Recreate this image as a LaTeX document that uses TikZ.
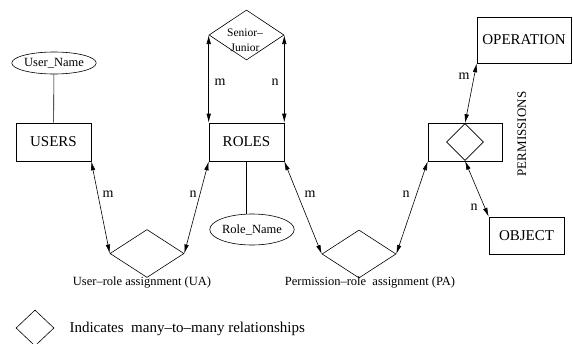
\documentclass[tikz,border=0pt]{standalone}
\usepackage{fontspec}
\setmainfont{Liberation Serif}
\usetikzlibrary{shapes.geometric,arrows.meta}

\begin{document}
\begin{tikzpicture}[%
    x=1pt,y=-1pt,
    >={Latex[length=9pt,width=4.5pt]},
    ent/.style={rectangle,draw,line width=0.6pt,inner sep=0pt,minimum width=75pt,minimum height=38pt,font=\fontsize{15}{17}\selectfont},
    attr/.style={ellipse,draw,line width=0.6pt,inner sep=0pt,font=\fontsize{12.5}{14}\selectfont},
    rel/.style={diamond,draw,line width=0.6pt,inner sep=0pt,minimum width=74pt,minimum height=48pt},
    lbl/.style={font=\fontsize{14}{16}\selectfont},
    capt/.style={font=\fontsize{12.5}{14}\selectfont}
  ]
		\useasboundingbox (0,0) rectangle (573,343);

		% entities
		\node at (53.5,142) [ent] (users) {USERS};
		\node at (246.5,142) [ent] (roles) {ROLES};
		\node at (465,142) [ent,minimum width=74pt] (perm) {};
		\node at (524,40) [ent,minimum width=94pt,minimum height=46pt] (oper) {OPERATION};
		\node at (526.5,235.5) [ent,minimum height=37pt] (obj) {OBJECT};

		% attributes
		\node at (54,63) [attr,minimum width=76pt,minimum height=22pt] (username) {User\_Name};
		\node at (252,229.5) [attr,minimum width=75pt,minimum height=31pt] (rolename) {Role\_Name};

		% relationships
		\node at (246.5,35) [rel,minimum width=75pt,minimum height=50pt] (sj) {};
		\node at (245,40) [font=\fontsize{11.5}{15}\selectfont,align=center] (sjtext) {Senior\textendash\\Junior};
		\node at (147,253.5) [rel] (ua) {};
		\node at (359,254) [rel] (pa) {};
		\node at (465,142) [rel,minimum width=37pt,minimum height=37pt] (permrel) {};
		\node at (522,134) [rotate=90,font=\fontsize{13}{15}\selectfont] (permtext) {PERMISSIONS};

		\node at (142,283) [capt] (uatext) {User\textendash role assignment (UA)};
		\node at (370,283) [capt] (patext) {Permission\textendash role\ \ assignment (PA)};

		% connectors
		\draw[line width=0.6pt] (username) -- (users);
		\draw[line width=0.6pt] (roles.south) -- (roles.south |- rolename.north);

		\draw[<->,line width=0.6pt] (sj.west) -- (roles.north west);
		\draw[<->,line width=0.6pt] (sj.east) -- (roles.north east);
		\draw[<->,line width=0.6pt] (users.south east) -- (ua.west);
		\draw[<->,line width=0.6pt] (roles.south west) -- (ua.east);
		\draw[<->,line width=0.6pt] (roles.south east) -- (pa.west);
		\draw[<->,line width=0.6pt] (perm.south west) -- (pa.east);
		\draw[<->,line width=0.6pt] (oper.south west) -- (permrel.north);
		\draw[<->,line width=0.6pt] (permrel.south) -- (obj.north west);

		% cardinalities
		\node at (220,82) [lbl] (sjm) {m};
		\node at (275,82) [lbl] (sjn) {n};
		\node at (108,194) [lbl] (uam) {m};
		\node at (193,194) [lbl] (uan) {n};
		\node at (310,194) [lbl] (pam) {m};
		\node at (406,194) [lbl] (pan) {n};
		\node at (464,76) [lbl] (operm) {m};
		\node at (474,207) [lbl] (objn) {n};

		% legend
		\node at (35,328) [rel,minimum width=38pt,minimum height=36pt] (legrel) {};
		\node at (66,329) [anchor=west,font=\fontsize{15}{17}\selectfont] (legtext) {Indicates\ \ many\textendash to\textendash many relationships};
	\end{tikzpicture}
\end{document}
